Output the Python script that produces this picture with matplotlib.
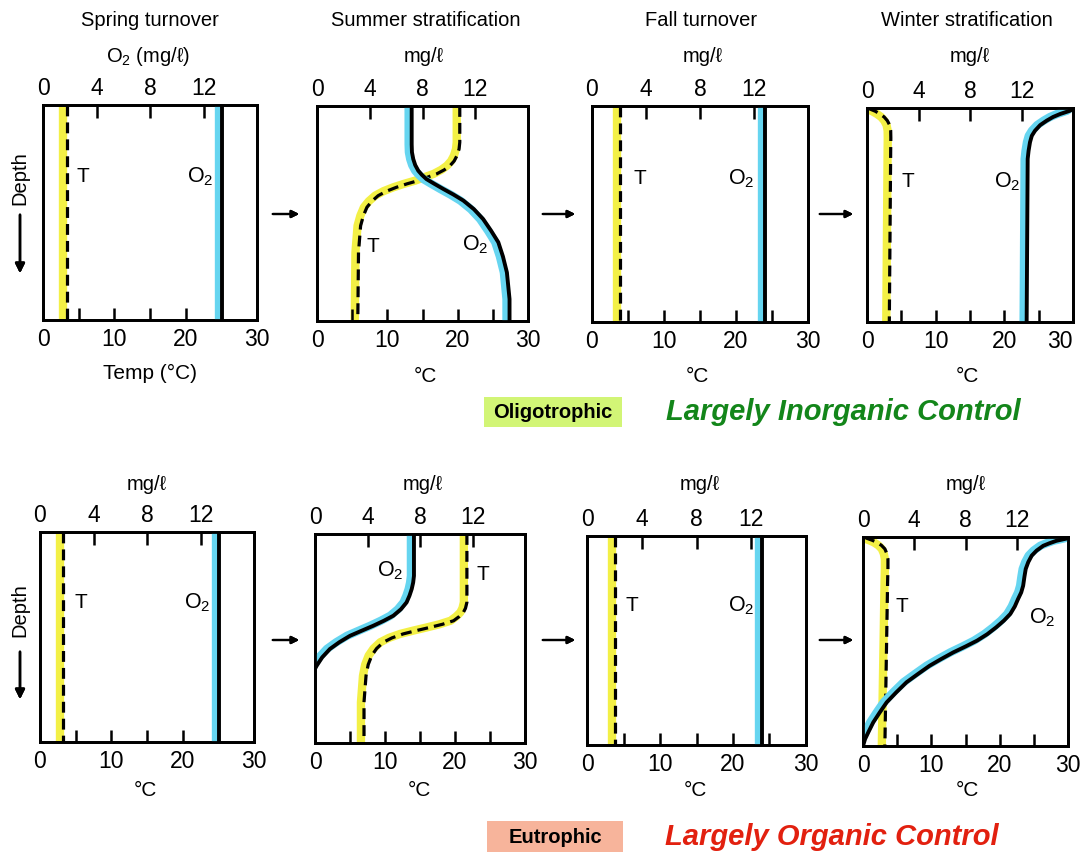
import matplotlib
matplotlib.use("Agg")
import matplotlib.pyplot as plt
import matplotlib.transforms as mtransforms
from matplotlib.patches import Rectangle

plt.rcParams['font.family'] = ['Liberation Sans', 'DejaVu Sans']
plt.rcParams['mathtext.default'] = 'regular'

W, H = 1080, 853

# depth is a fraction of the lake depth (0 = surface, 1 = bottom)
# temperature in deg C, oxygen in mg/l

# --- oligotrophic ---
spring_o_depth = [0.0, 1.0]
spring_o_temp = [3.3, 3.3]
spring_o_o2 = [13.4, 13.4]

summer_o_t_depth = [0.0, 0.169, 0.2, 0.231, 0.256, 0.278, 0.297, 0.316, 0.33, 0.347,
                    0.362, 0.378, 0.396, 0.417, 0.443, 0.471, 0.51, 0.557, 0.681, 1.0]
summer_o_temp = [20.3, 20.3, 20.2, 19.9, 19.5, 18.9, 18.1, 17.0, 15.8, 14.4,
                 12.8, 11.3, 9.9, 8.7, 7.8, 7.1, 6.6, 6.2, 5.9, 5.8]
summer_o_o_depth = [0.0, 0.179, 0.215, 0.247, 0.275, 0.301, 0.32, 0.34, 0.362, 0.386,
                    0.412, 0.44, 0.48, 0.526, 0.58, 0.634, 0.7, 0.774, 0.898, 1.0]
summer_o_o2 = [7.18, 7.18, 7.2, 7.3, 7.45, 7.68, 7.95, 8.3, 8.9, 9.58,
               10.35, 11.1, 11.9, 12.6, 13.2, 13.75, 14.1, 14.4, 14.6, 14.6]

fall_o_depth = [0.0, 1.0]
fall_o_temp = [3.9, 3.9]
fall_o_o2 = [12.8, 12.8]

winter_o_t_depth = [0.0, 0.005, 0.015, 0.028, 0.042, 0.059, 0.08, 0.106, 0.14, 0.19, 1.0]
winter_o_temp = [0.1, 0.44, 1.2, 1.9, 2.5, 2.96, 3.3, 3.45, 3.47, 3.45, 3.25]
winter_o_o_depth = [0.0, 0.012, 0.028, 0.042, 0.059, 0.08, 0.106, 0.13, 0.16, 0.2, 0.238, 1.0]
winter_o_o2 = [16.0, 15.8, 15.0, 14.45, 13.96, 13.45, 13.05, 12.8, 12.66, 12.55, 12.48, 12.4]

# --- eutrophic ---
spring_e_depth = [0.0, 1.0]
spring_e_temp = [3.2, 3.2]
spring_e_o2 = [13.4, 13.4]

summer_e_t_depth = [0.0, 0.327, 0.355, 0.375, 0.395, 0.415, 0.432, 0.447, 0.462, 0.478,
                    0.497, 0.518, 0.548, 0.582, 0.625, 0.678, 0.805, 1.0]
summer_e_temp = [21.7, 21.7, 21.5, 21.2, 20.6, 19.8, 18.2, 16.4, 14.5, 12.6,
                 11.0, 9.76, 8.8, 8.1, 7.6, 7.29, 7.0, 7.0]
summer_e_o_depth = [0.0, 0.2, 0.232, 0.263, 0.295, 0.327, 0.36, 0.391, 0.415, 0.439,
                    0.463, 0.487, 0.518, 0.55, 0.59, 0.63, 0.645]
summer_e_o2 = [7.54, 7.54, 7.48, 7.37, 7.2, 6.98, 6.55, 5.97, 5.25, 4.44,
               3.55, 2.67, 1.85, 1.14, 0.55, 0.13, 0.0]

fall_e_depth = [0.0, 1.0]
fall_e_temp = [3.8, 3.8]
fall_e_o2 = [12.8, 12.8]

winter_e_t_depth = [0.0, 0.006, 0.015, 0.025, 0.04, 0.057, 0.08, 0.105, 0.15, 0.217, 1.0]
winter_e_temp = [0.2, 0.54, 1.3, 2.0, 2.7, 3.2, 3.5, 3.65, 3.65, 3.6, 3.2]
winter_e_o_depth = [0.0, 0.006, 0.018, 0.03, 0.042, 0.065, 0.089, 0.12, 0.153, 0.19, 0.233,
                    0.265, 0.297, 0.332, 0.368, 0.4, 0.432, 0.465, 0.496, 0.524, 0.552,
                    0.584, 0.616, 0.655, 0.695, 0.743, 0.791, 0.84, 0.887, 0.93, 0.967, 1.0]
winter_e_o2 = [16.0, 16.0, 15.1, 14.55, 14.07, 13.55, 13.17, 12.9, 12.7, 12.6, 12.5,
               12.35, 12.1, 11.85, 11.5, 11.0, 10.4, 9.7, 8.9, 8.0, 7.05,
               6.1, 5.2, 4.3, 3.4, 2.6, 1.85, 1.3, 0.8, 0.45, 0.16, 0.0]

temp_ticks = [0, 10, 20, 30]
temp_minor = [5, 15, 25]
o2_ticks = [0, 4, 8, 12]

YELLOW = '#f3f046'
CYAN = '#66d5f0'

fig = plt.figure(figsize=(W / 100, H / 100), dpi=100)


def rect(l, t, r, b):
    return [l / W, 1 - b / H, (r - l) / W, (b - t) / H]


def fx(x):
    return x / W


def fy(y):
    return 1 - y / H


def panel(box, t_depth, temp, o_depth, o2, t_lab, o_lab):
    ax = fig.add_axes(rect(*box))
    ax.set_xlim(0, 30)
    ax.set_ylim(1, 0)
    ax.set_yticks([])
    ax.set_xticks(temp_ticks)
    ax.set_xticks(temp_minor, minor=True)
    ax.tick_params(axis='x', which='both', direction='in', length=9, width=1.8,
                   labelsize=16.5, pad=5)
    top = ax.twiny()
    top.set_xlim(0, 16)
    top.set_xticks(o2_ticks)
    top.tick_params(axis='x', direction='in', length=9, width=1.8, labelsize=16.5, pad=4)
    for a in (ax, top):
        for s in a.spines.values():
            s.set_linewidth(2)

    shift_t = mtransforms.offset_copy(ax.transData, fig=fig, x=-2.2, y=0, units='points')
    shift_o = mtransforms.offset_copy(top.transData, fig=fig, x=-2.2, y=0, units='points')
    ax.plot(temp, t_depth, color=YELLOW, lw=6, transform=shift_t,
            solid_capstyle='butt', solid_joinstyle='round', zorder=1)
    ax.plot(temp, t_depth, color='black', lw=2.3, ls=(0, (3.4, 1.9)),
            dash_joinstyle='round', zorder=3)
    top.plot(o2, o_depth, color=CYAN, lw=6, transform=shift_o,
             solid_capstyle='butt', solid_joinstyle='round', zorder=1)
    top.plot(o2, o_depth, color='black', lw=2.8, solid_joinstyle='round', zorder=3)

    ax.text(t_lab[0], t_lab[1], 'T', fontsize=15, ha='center', va='center')
    ax.text(o_lab[0], o_lab[1], 'O$_2$', fontsize=15.5, ha='center', va='center')
    return ax


panel((43, 106, 257, 321), spring_o_depth, spring_o_temp, spring_o_depth, spring_o_o2,
      (5.6, 0.33), (22.0, 0.33))
panel((317, 107, 528, 322), summer_o_t_depth, summer_o_temp, summer_o_o_depth, summer_o_o2,
      (8.0, 0.65), (22.5, 0.64))
panel((592, 107, 808, 323), fall_o_depth, fall_o_temp, fall_o_depth, fall_o_o2,
      (6.7, 0.33), (20.8, 0.33))
ax_w = panel((867, 109, 1073, 323), winter_o_t_depth, winter_o_temp, winter_o_o_depth, winter_o_o2,
             (6.0, 0.34), (20.4, 0.34))
# last label sits at the figure edge: right-align it so it stays inside
ax_w.get_xticklabels()[-1].set_horizontalalignment('right')
panel((40, 533, 254, 743), spring_e_depth, spring_e_temp, spring_e_depth, spring_e_o2,
      (5.7, 0.33), (22.0, 0.33))
panel((315, 535, 525, 744), summer_e_t_depth, summer_e_temp, summer_e_o_depth, summer_e_o2,
      (24.0, 0.19), (10.7, 0.17))
panel((587, 537, 806, 746), fall_e_depth, fall_e_temp, fall_e_depth, fall_e_o2,
      (6.2, 0.33), (21.2, 0.33))
ax_w2 = panel((863, 538, 1068, 747), winter_e_t_depth, winter_e_temp, winter_e_o_depth, winter_e_o2,
              (5.7, 0.33), (26.3, 0.38))

# titles and axis captions
titles = ['Spring turnover', 'Summer stratification', 'Fall turnover', 'Winter stratification']
title_x = [150, 426, 701, 967]
for t, x in zip(titles, title_x):
    fig.text(fx(x), fy(21), t, fontsize=14.5, ha='center', va='center')

top_units = ['O$_2$ (mg/\u2113)', 'mg/\u2113', 'mg/\u2113', 'mg/\u2113']
for u, x in zip(top_units, [148, 424, 703, 970]):
    fig.text(fx(x), fy(57), u, fontsize=14.5, ha='center', va='center')
for x in [147, 423, 700, 966]:
    fig.text(fx(x), fy(484), 'mg/\u2113', fontsize=14.5, ha='center', va='center')

fig.text(fx(150), fy(373), 'Temp (\u00b0C)', fontsize=15, ha='center', va='center')
for x in [425, 697, 967]:
    fig.text(fx(x), fy(377), '\u00b0C', fontsize=15, ha='center', va='center')
for x in [145, 419, 695, 967]:
    fig.text(fx(x), fy(791), '\u00b0C', fontsize=15, ha='center', va='center')

# depth labels with arrows
for ytxt, y0, y1 in [(178, 213, 277), (610, 650, 703)]:
    fig.text(fx(20), fy(ytxt), 'Depth', fontsize=14.5, rotation=90, ha='center', va='center')
    fig.add_artist(plt.annotate('', xy=(fx(20), fy(y1)), xytext=(fx(20), fy(y0)),
                                xycoords='figure fraction',
                                arrowprops=dict(arrowstyle='-|>', lw=1.8, color='black',
                                                mutation_scale=14)))

# arrows between seasons
for y in [215, 641]:
    for x0, x1 in [(270, 302), (540, 578), (817, 856)]:
        fig.add_artist(plt.annotate('', xy=(fx(x1), fy(y)), xytext=(fx(x0), fy(y)),
                                    xycoords='figure fraction',
                                    arrowprops=dict(arrowstyle='-|>', lw=1.6, color='black',
                                                    mutation_scale=11)))

# trophic state labels
fig.add_artist(Rectangle((fx(484), fy(428)), (622 - 484) / W, 30 / H,
                         transform=fig.transFigure, facecolor='#d2f576', edgecolor='none'))
fig.text(fx(553), fy(413), 'Oligotrophic', fontsize=14.5, fontweight='bold',
         ha='center', va='center')
fig.text(fx(843), fy(412), 'Largely Inorganic Control', fontsize=21, fontweight='bold',
         fontstyle='italic', color='#13861a', ha='center', va='center')

fig.add_artist(Rectangle((fx(487), fy(853)), (623 - 487) / W, 31 / H,
                         transform=fig.transFigure, facecolor='#f7b49b', edgecolor='none'))
fig.text(fx(555), fy(838), 'Eutrophic', fontsize=14.5, fontweight='bold',
         ha='center', va='center')
fig.text(fx(832), fy(837), 'Largely Organic Control', fontsize=21, fontweight='bold',
         fontstyle='italic', color='#e2200f', ha='center', va='center')

fig.savefig('out.png', dpi=100)
